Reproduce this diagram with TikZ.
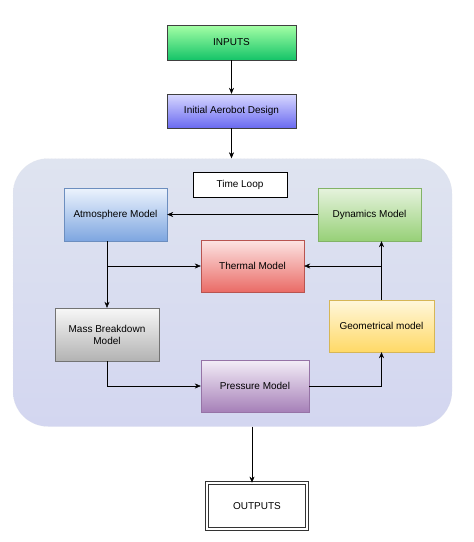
\documentclass[tikz,border=0pt]{standalone}
\usepackage{fontspec}
\setmainfont{Liberation Sans}
\usepackage{tikz}
\usetikzlibrary{arrows.meta,shadows}
\usepackage{xcolor}
\definecolor{loopfill}{HTML}{D3D6F0}
\definecolor{looptop}{HTML}{DFE4F0}
\tikzstyle{glassbox} = [rectangle, thin, inner sep=2pt, align=center, font=\fontsize{10}{12}\selectfont,
  drop shadow={opacity=0.15, shadow xshift=1pt, shadow yshift=-1pt}]
\tikzstyle{inputbox} = [glassbox, draw=black!75, top color=green!35!white, bottom color={rgb,255:red,20;green,196;blue,104},
  minimum width=129pt, minimum height=35pt]
\tikzstyle{designbox} = [glassbox, draw=black!75, top color={rgb,255:red,216;green,216;blue,255}, bottom color={rgb,255:red,106;green,106;blue,240},
  minimum width=129pt, minimum height=34pt]
\tikzstyle{modelbox} = [glassbox, minimum width=103pt, minimum height=53pt]
\tikzstyle{linkarrow} = [thin, -{Stealth[length=6pt,width=5pt]}]

\begin{document}
\begin{tikzpicture}[x=1pt,y=-1pt]
\useasboundingbox (0,0) rectangle (474,542);
% loop container
\node [rectangle, rounded corners=35pt, draw=loopfill!80!black!30, densely dotted, top color=looptop, bottom color=loopfill,
  minimum width=439pt, minimum height=268pt] (loop) at (232.5,292.5) {};
% input side
\node [inputbox] (inputs) at (231.5,42.5) {INPUTS};
\node [designbox] (design) at (231.5,111) {Initial Aerobot Design};
\node [rectangle, draw=black, fill=white, thin, minimum width=94pt, minimum height=25pt, font=\fontsize{10}{12}\selectfont] (timeloop) at (240,184.5) {Time Loop};
% models
\node [modelbox, draw={rgb,255:red,108;green,142;blue,191}, top color={rgb,255:red,236;green,243;blue,253}, bottom color={rgb,255:red,126;green,166;blue,224}] (atmos) at (115.5,214.5) {Atmosphere Model};
\node [modelbox, draw={rgb,255:red,130;green,179;blue,102}, top color={rgb,255:red,230;green,243;blue,222}, bottom color={rgb,255:red,151;green,208;blue,119}] (dynam) at (369.5,214.5) {Dynamics Model};
\node [modelbox, minimum height=52pt, draw={rgb,255:red,184;green,84;blue,80}, top color={rgb,255:red,252;green,228;blue,227}, bottom color={rgb,255:red,234;green,107;blue,102}] (thermal) at (252.5,266) {Thermal Model};
\node [modelbox, minimum width=104pt, draw=black!55, top color=black!3, bottom color=black!30] (mass) at (107,334.5) {Mass Breakdown\\Model};
\node [modelbox, minimum width=105pt, minimum height=52pt, draw={rgb,255:red,214;green,182;blue,86}, top color={rgb,255:red,255;green,247;blue,220}, bottom color={rgb,255:red,255;green,217;blue,102}] (geom) at (381.5,326) {Geometrical model};
\node [modelbox, minimum width=108pt, minimum height=52pt, draw={rgb,255:red,150;green,115;blue,166}, top color={rgb,255:red,243;green,237;blue,247}, bottom color={rgb,255:red,166;green,128;blue,184}] (press) at (255,386) {Pressure Model};
% output
\node [rectangle, draw=black!80, line width=0.8pt, double=white, double distance=1.6pt, fill=white, minimum width=100pt, minimum height=46pt, font=\fontsize{10}{12}\selectfont] (outputs) at (257,506) {OUTPUTS};

% connectors
\draw [linkarrow] (inputs) -- (design);
\draw [linkarrow] (design.south) -- (design.south |- loop.north);
\draw [linkarrow] (dynam.west) -- (atmos.east);
\draw [linkarrow] (mass.north |- atmos.south) -- (mass.north);
\draw [linkarrow] (mass.north |- thermal.west) -- (thermal.west);
\draw [linkarrow] (mass.south) |- (press.west);
\draw [linkarrow] (press.east) -| (geom.south);
\draw [linkarrow] (geom.north) -- (geom.north |- dynam.south);
\draw [linkarrow] (geom.north |- thermal.east) -- (thermal.east);
\draw [linkarrow] ([xshift=-5pt]outputs.north |- loop.south) -- ([xshift=-5pt]outputs.north);
\end{tikzpicture}
\end{document}
